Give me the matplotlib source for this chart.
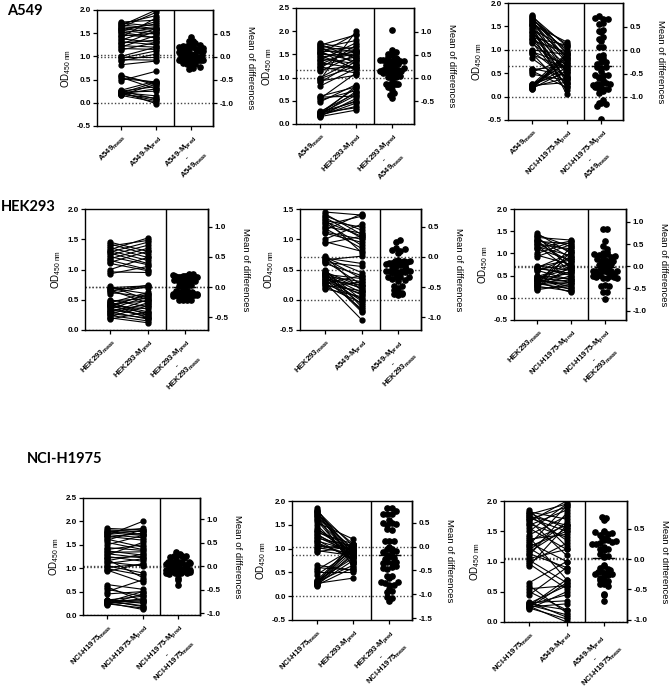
import numpy as np
import matplotlib
matplotlib.use('Agg')
import matplotlib.pyplot as plt
from matplotlib.ticker import FormatStrFormatter

plt.rcParams['font.family'] = 'Liberation Sans'
plt.rcParams['font.weight'] = 'bold'
plt.rcParams['mathtext.fontset'] = 'custom'
for k in ['rm', 'it', 'bf', 'sf']:
    plt.rcParams['mathtext.' + k] = 'Liberation Sans:bold'
plt.rcParams['mathtext.default'] = 'regular'
plt.rcParams['axes.unicode_minus'] = False

# measured OD450 per cell line
a549_meas = [0.16, 0.17, 0.18, 0.19, 0.20, 0.21, 0.22, 0.23, 0.24, 0.25, 0.26, 0.27,
             0.48, 0.52, 0.55, 0.58, 0.60,
             0.82, 0.90, 0.93, 0.96, 0.98, 1.00,
             1.14, 1.17, 1.20, 1.23, 1.26, 1.29, 1.32, 1.35, 1.38, 1.41, 1.44, 1.47, 1.50,
             1.52, 1.54, 1.56, 1.58, 1.60, 1.62, 1.64, 1.66, 1.68, 1.70, 1.72, 1.74]
hek_meas = [0.93, 0.96, 1.00, 1.10, 1.12, 1.15, 1.18, 1.21, 1.24, 1.27, 1.29, 1.31,
            1.33, 1.36, 1.39, 1.42, 1.45,
            0.60, 0.62, 0.64, 0.66, 0.68, 0.69, 0.70, 0.72,
            0.18, 0.20, 0.22, 0.24, 0.26, 0.27, 0.29, 0.30, 0.32, 0.33, 0.35, 0.36,
            0.38, 0.39, 0.40, 0.41, 0.42, 0.43, 0.44, 0.45, 0.46, 0.48, 0.50]
nci_meas = [1.50, 1.55, 1.60, 1.62, 1.66, 1.68, 1.70, 1.72, 1.75, 1.76, 1.78, 1.80, 1.82, 1.85,
            1.10, 1.13, 1.16, 1.19, 1.22, 1.25, 1.28, 1.31, 1.34, 1.37, 1.40, 1.44,
            0.93, 0.96, 0.99, 1.02, 1.05,
            0.45, 0.50, 0.55, 0.60, 0.65,
            0.22, 0.23, 0.24, 0.25, 0.26, 0.27, 0.28, 0.29, 0.30, 0.31, 0.32, 0.33]

# model predictions (paired with the measured lists above)
a549_pred_a549 = [0.02, 0.40, 0.10, 0.30, 0.05, 0.44, 0.15, 0.25, -0.02, 0.35, 0.08, 0.47,
                  0.68, 0.45, 0.30, 0.42, 0.38,
                  0.90, 1.05, 0.92, 1.12, 0.98, 1.20,
                  1.30, 1.15, 1.45, 1.20, 1.55, 1.35, 1.25, 1.60, 1.30, 1.83, 1.50, 1.40, 1.62,
                  1.40, 1.75, 1.48, 1.70, 1.52, 1.95, 1.58, 2.00, 1.60, 1.88, 1.65, 1.78]
hek_pred_a549 = [0.30, 0.55, 0.45, 0.70, 0.38, 0.82, 0.50, 0.62, 0.35, 0.78, 0.48, 0.66,
                 0.85, 0.72, 1.10, 0.60, 0.80,
                 1.20, 1.35, 1.05, 2.00, 1.25, 1.40,
                 1.50, 1.25, 1.70, 1.10, 1.45, 1.60, 1.20, 1.52, 1.75, 1.30, 1.55, 1.20, 1.48,
                 1.95, 1.35, 1.58, 1.15, 1.65, 1.45, 1.80, 1.30, 1.55, 1.92, 1.40, 1.60]
nci_pred_a549 = [0.85, 0.55, 0.90, 0.75, 0.40, 0.88, 0.62, 0.80, 0.30, 0.92, 0.70, 0.50,
                 0.35, 0.80, 0.20, 0.65, 0.45,
                 0.30, 0.60, 0.15, 0.70, 0.40, 0.90,
                 0.60, 0.25, 0.95, 0.40, 1.10, 0.55, 0.20, 0.90, 0.65, 0.35, 1.05, 0.75, 0.30,
                 0.05, 1.17, 0.85, 0.45, 1.00, 0.78, 1.12, 0.50, 0.95, 0.82, 1.08, 0.92]
hek_pred_hek = [1.05, 0.95, 1.20, 0.98, 1.30, 1.00, 1.35, 1.08, 1.40, 1.10, 1.45, 1.15,
                1.52, 1.20, 1.48, 1.25, 1.30,
                0.72, 0.55, 0.74, 0.45, 0.70, 0.60, 0.73, 0.50,
                0.30, 0.12, 0.40, 0.15, 0.45, 0.20, 0.50, 0.18, 0.42, 0.25, 0.55, 0.22,
                0.60, 0.28, 0.35, 0.58, 0.20, 0.48, 0.30, 0.62, 0.25, 0.52, 0.38]
a549_pred_hek = [1.05, 0.80, 1.25, 0.95, 1.00, 1.42, 0.85, 1.10, 1.38, 0.90, 1.05, 1.20,
                 0.78, 1.02, 1.15, 1.08, 1.40,
                 0.40, 0.55, 0.25, 0.72, 0.35, 0.60, 0.45, 0.15,
                 0.05, 0.30, -0.05, 0.15, 0.02, 0.40, -0.33, 0.10, 0.25, -0.15, 0.08, 0.20,
                 -0.02, 0.30, -0.20, 0.12, 0.35, -0.08, 0.18, -0.18, 0.22, 0.00, -0.12]
nci_pred_hek = [1.20, 0.75, 1.25, 0.85, 1.28, 0.95, 0.60, 1.10, 0.80, 1.22, 0.70, 1.05,
                0.90, 1.30, 0.65, 1.15, 1.00,
                0.90, 0.40, 0.75, 0.55, 1.00, 0.50, 0.85, 0.62,
                0.30, 1.05, 0.25, 0.70, 0.15, 0.50, 0.35, 1.15, 0.20, 0.60, 0.40, 0.12,
                0.95, 0.45, 0.30, 0.80, 0.25, 0.55, 0.18, 0.65, 0.35, 0.70, 0.42]
nci_pred_nci = [1.70, 1.40, 1.82, 1.45, 1.75, 1.60, 2.00, 1.65, 1.80, 1.70, 1.85, 1.72, 1.78, 1.82,
                1.20, 1.05, 1.30, 0.80, 1.25, 1.15, 1.55, 1.22, 1.35, 1.28, 1.50, 1.38,
                1.10, 0.70, 0.85, 1.08, 0.90,
                0.50, 0.75, 0.40, 0.30, 0.55,
                0.28, 0.45, 0.15, 0.35, 0.12, 0.30, 0.50, 0.20, 0.32, 0.18, 0.40, 0.25]
hek_pred_nci = [0.75, 1.20, 0.70, 0.85, 1.00, 0.62, 0.90, 1.10, 0.80, 0.95, 0.70, 1.05, 0.88, 0.70,
                0.85, 0.80, 0.95, 0.75, 1.05, 0.90, 0.95, 0.85, 1.10, 0.95, 1.00, 0.82,
                1.05, 0.85, 1.10, 0.90, 1.00,
                0.95, 0.50, 1.00, 0.55, 0.55,
                0.90, 0.60, 1.05, 0.75, 0.95, 0.38, 1.10, 0.85, 0.65, 1.00, 0.80, 1.08]
a549_pred_nci = [1.95, 1.20, 1.85, 1.40, 2.00, 1.10, 1.90, 1.50, 1.60, 1.35, 1.95, 1.55, 1.70, 1.25,
                 1.80, 0.90, 1.55, 1.65, 0.85, 1.50, 1.92, 1.00, 1.60, 1.45, 0.70, 1.75,
                 1.60, 0.55, 1.30, 0.65, 1.20,
                 0.90, 0.20, 0.60, 0.15, 1.00,
                 0.50, 0.05, 0.65, 0.30, 0.00, 0.70, 0.12, 0.45, 0.20, 0.60, 0.35, 0.08]

W, H = 669, 699
fig = plt.figure(figsize=(W / 100, H / 100), dpi=100)


def swarm_offsets(ypx, d, maxw):
    # bin the points vertically and spread each row symmetrically (pixel units)
    bins = np.round(ypx / d).astype(int)
    xs = np.zeros(len(ypx))
    for b in np.unique(bins):
        idx = np.where(bins == b)[0]
        n = len(idx)
        if n > 1:
            sp = min(d, 2 * maxw / (n - 1))
            xs[idx] = (np.arange(n) - (n - 1) / 2) * sp
    return xs


def draw(box, meas, pred, mname, pname, ylim, rticks):
    x0, x1, yt, yb = box
    ax = fig.add_axes([x0 / W, 1 - yb / H, (x1 - x0) / W, (yb - yt) / H])
    meas = np.array(meas)
    pred = np.array(pred)
    diff = pred - meas
    m1 = meas.mean()
    md = diff.mean()
    xl = (-0.68, 2.62)
    ax.set_xlim(xl)
    ax.set_ylim(ylim)

    for yy in [0, m1, m1 + md]:
        ax.axhline(yy, color='#444444', ls=(0, (1, 1.5)), lw=1.0, zorder=1)
    for a, b in zip(meas, pred):
        ax.plot([0, 1], [a, b], color='black', lw=0.8, zorder=2)
    ax.plot(np.zeros(len(meas)), meas, 'o', ms=3.5, color='black', zorder=3)
    ax.plot(np.ones(len(pred)), pred, 'o', ms=3.5, color='black', zorder=3)

    py = (yb - yt) / (ylim[1] - ylim[0])
    px = (x1 - x0) / (xl[1] - xl[0])
    off = swarm_offsets((m1 + diff) * py, 4.2, 12) / px
    ax.plot(2 + off, m1 + diff, 'o', ms=3.8, color='black', zorder=3)
    ax.plot([1.72, 2.28], [m1 + md] * 2, color='black', lw=1.0, zorder=4)
    ax.axvline(1.5, color='black', lw=1.0)

    for s in ax.spines.values():
        s.set_linewidth(1.0)
    ax.set_yticks(np.arange(ylim[0], ylim[1] + 0.01, 0.5))
    ax.yaxis.set_major_formatter(FormatStrFormatter('%.1f'))
    ax.set_xticks([0, 1, 2])
    ax.set_xticklabels([mname + '$_{meas}$', pname + '-M$_{pred}$',
                        pname + '-M$_{pred}$\n-\n' + mname + '$_{meas}$'],
                       rotation=45, ha='right', rotation_mode='anchor',
                       fontsize=5.6, multialignment='center')
    ax.tick_params(axis='y', labelsize=5.8, length=3, width=0.9, pad=1.5)
    ax.tick_params(axis='x', length=3, width=0.9, pad=2)
    ax.set_ylabel('OD$_{450\\ nm}$', fontsize=7, labelpad=3)

    sec = ax.secondary_yaxis('right', functions=(lambda y, m=m1: y - m,
                                                 lambda d, m=m1: d + m))
    sec.set_yticks(rticks)
    sec.yaxis.set_major_formatter(FormatStrFormatter('%.1f'))
    sec.tick_params(labelsize=5.8, length=3, width=0.9, pad=1.5)
    sec.spines['right'].set_linewidth(1.0)
    sec.set_ylabel('Mean of differences', fontsize=6.8, rotation=270,
                   va='bottom', labelpad=9)


panels = [
    ((97, 213, 10, 126), a549_meas, a549_pred_a549, 'A549', 'A549', (-0.5, 2.0), [-1.5, -1.0, -0.5, 0.0, 0.5]),
    ((296, 414, 8, 124), a549_meas, hek_pred_a549, 'A549', 'HEK293', (0.0, 2.5), [-1.0, -0.5, 0.0, 0.5, 1.0]),
    ((508, 623, 3, 120), a549_meas, nci_pred_a549, 'A549', 'NCI-H1975', (-0.5, 2.0), [-1.5, -1.0, -0.5, 0.0, 0.5]),
    ((85, 208, 209, 330), hek_meas, hek_pred_hek, 'HEK293', 'HEK293', (0.0, 2.0), [-0.5, 0.0, 0.5, 1.0]),
    ((300, 421, 209, 330), hek_meas, a549_pred_hek, 'HEK293', 'A549', (-0.5, 1.5), [-1.0, -0.5, 0.0, 0.5]),
    ((514, 626, 209, 320), hek_meas, nci_pred_hek, 'HEK293', 'NCI-H1975', (-0.5, 2.0), [-1.0, -0.5, 0.0, 0.5, 1.0]),
    ((83, 200, 498, 615), nci_meas, nci_pred_nci, 'NCI-H1975', 'NCI-H1975', (0.0, 2.5), [-1.0, -0.5, 0.0, 0.5, 1.0]),
    ((292, 412, 501, 620), nci_meas, hek_pred_nci, 'NCI-H1975', 'HEK293', (-0.5, 2.0), [-1.5, -1.0, -0.5, 0.0, 0.5]),
    ((504, 627, 501, 622), nci_meas, a549_pred_nci, 'NCI-H1975', 'A549', (0.0, 2.0), [-1.0, -0.5, 0.0, 0.5]),
]
for p in panels:
    draw(*p)

fig.text(7 / W, 1 - 11 / H, 'A549', fontsize=10.5, family='Lato', weight='bold', va='center')
fig.text(1 / W, 1 - 207 / H, 'HEK293', fontsize=10.5, family='Lato', weight='bold', va='center')
fig.text(27 / W, 1 - 459 / H, 'NCI-H1975', fontsize=10.5, family='Lato', weight='bold', va='center')

fig.savefig('out.png', dpi=100)
